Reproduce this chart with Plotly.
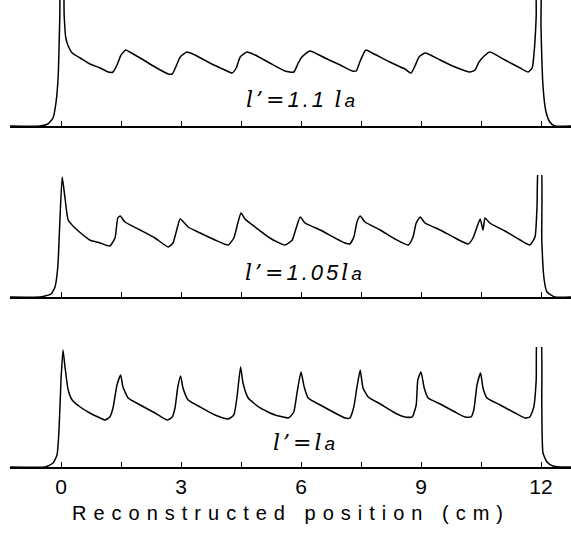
import plotly.graph_objects as go

# ---- data ----
x_top = [-1.28, -0.53, -0.33, -0.2, -0.12, -0.07, -0.03, 0.0, 0.04, 0.08, 0.12, 0.18, 0.28, 0.48, 0.72, 0.98,
         1.18, 1.3, 1.4, 1.5, 1.62, 1.72, 1.98, 2.35, 2.68, 2.78, 2.88, 2.98, 3.15, 3.35, 3.72, 4.1, 4.28,
         4.38, 4.48, 4.65, 4.85, 5.22, 5.6, 5.82, 5.92, 6.02, 6.22, 6.6, 6.98, 7.28, 7.38, 7.48, 7.62, 7.78,
         8.22, 8.6, 8.75, 8.85, 8.95, 9.1, 9.48, 9.85, 10.22, 10.35, 10.45, 10.58, 10.72, 11.1, 11.48, 11.68,
         11.78, 11.82, 11.88, 11.9, 11.98, 12.0, 12.05, 12.12, 12.22, 12.35, 12.75]
h_top = [0, 0, 2, 8, 25, 50, 110, 170, 170, 110, 88, 80, 73, 68, 62, 58,
         54, 54, 61, 71, 76, 74, 68, 59, 52, 52, 60, 69, 74, 71, 63, 56, 53,
         58, 69, 74, 71, 63, 55, 54, 62, 69, 75, 68, 61, 55, 55, 65, 76, 73,
         64, 57, 53, 60, 69, 73, 66, 59, 54, 56, 64, 70, 74, 66, 58, 54,
         58, 70, 110, 170, 170, 100, 40, 15, 4, 0, 0]

x_mid = [-1.28, -0.53, -0.4, -0.25, -0.15, -0.08, -0.03, 0.03, 0.1, 0.18, 0.35, 0.72, 0.98, 1.22, 1.35,
         1.42, 1.48, 1.6, 1.98, 2.35, 2.68, 2.8, 2.88, 2.98, 3.18, 3.48, 3.85, 4.18, 4.32, 4.42, 4.5, 4.6,
         4.85, 5.22, 5.6, 5.78, 5.88, 5.98, 6.1, 6.48, 6.85, 7.1, 7.22, 7.32, 7.4, 7.48, 7.6, 7.98, 8.35,
         8.68, 8.8, 8.88, 8.98, 9.1, 9.48, 9.85, 10.18, 10.3, 10.4, 10.48, 10.55, 10.6, 10.72, 11.1, 11.48,
         11.72, 11.85, 11.9, 11.94, 12.0, 12.02, 12.08, 12.15, 12.35, 12.75]
h_mid = [0, 0, 1, 3, 10, 30, 74, 120, 99, 77, 69, 57, 54, 51, 59,
         79, 81, 75, 67, 59, 50, 54, 65, 78, 70, 64, 57, 52, 59, 74, 84, 78,
         70, 59, 52, 57, 69, 80, 74, 67, 59, 54, 53, 60, 75, 81, 75, 67, 58,
         52, 60, 74, 80, 74, 67, 59, 53, 59, 70, 78, 67, 79, 74, 66, 57,
         52, 60, 90, 135, 135, 57, 17, 5, 0, 0]

x_bot = [-1.28, -0.4, -0.33, -0.2, -0.1, -0.05, 0.0, 0.05, 0.1, 0.18, 0.28, 0.48, 0.72, 0.98, 1.1, 1.22,
         1.3, 1.4, 1.49, 1.55, 1.68, 1.98, 2.35, 2.65, 2.78, 2.85, 2.92, 2.99, 3.05, 3.18, 3.48, 3.85, 4.18,
         4.32, 4.4, 4.49, 4.55, 4.68, 4.98, 5.35, 5.68, 5.72, 5.82, 5.9, 6.0, 6.08, 6.18, 6.48, 6.85, 7.1,
         7.22, 7.32, 7.4, 7.48, 7.55, 7.68, 7.98, 8.35, 8.6, 8.78, 8.88, 8.92, 9.0, 9.08, 9.18, 9.48, 9.85,
         10.1, 10.25, 10.32, 10.4, 10.49, 10.55, 10.65, 10.98, 11.35, 11.6, 11.72, 11.82, 11.88, 11.91,
         11.99, 12.02, 12.05, 12.15, 12.3, 12.48, 12.75]
h_bot = [0, 0, 1, 4, 12, 37, 87, 117, 100, 77, 67, 60, 54, 49, 47, 50,
         59, 82, 92, 80, 69, 62, 54, 47, 50, 59, 80, 91, 79, 67, 60, 52, 48,
         52, 70, 100, 84, 69, 59, 52, 49, 50, 55, 74, 95, 80, 69, 62, 54, 49,
         49, 60, 80, 97, 79, 70, 63, 54, 50, 50, 62, 87, 95, 79, 69, 63, 55,
         50, 50, 57, 82, 94, 79, 69, 62, 54, 49, 50, 60, 87, 135,
         135, 60, 14, 5, 1, 0, 0]

tick_vals = [0, 1.5, 3, 4.5, 6, 7.5, 9, 10.5, 12]
tick_text = ["0", "", "3", "", "6", "", "9", "", "12"]
labels = ["1.1", "1.05", ""]
x_title = "Reconstructed position (cm)"

SERIF = "DejaVu Serif"
SANS = "Liberation Sans"


def eq_text(val):
    l = f"<i><span style=\"font-family:'{SERIF}'\">l\u2019</span></i><span style=\"font-family:'{SERIF}'\">=</span>"
    la = (f"<i><span style=\"font-family:'{SERIF}'\">l</span></i>"
          f"<i><span style=\"font-size:19px\">a</span></i>")
    if val:
        gap = "\u2009" if val == "1.1" else ""
        return l + f"<i>{val}</i>" + gap + la
    return l + la


fig = go.Figure()
panels = [(x_top, h_top, "x", "y", [0, 126], [0.7302, 1.0]),
          (x_mid, h_mid, "x2", "y2", [0, 122], [0.3640, 0.6253]),
          (x_bot, h_bot, "x3", "y3", [0, 120], [0.0, 0.2570])]

layout = dict(width=571, height=557, margin=dict(l=10, r=0, t=0, b=90),
              plot_bgcolor="white", paper_bgcolor="white", showlegend=False)

for i, (xs, hs, xa, ya, yr, dom) in enumerate(panels):
    fig.add_trace(go.Scatter(x=xs, y=hs, mode="lines", xaxis=xa, yaxis=ya,
                             line=dict(color="black", width=1.5, shape="spline", smoothing=0.5),
                             hoverinfo="skip"))
    sfx = "" if i == 0 else str(i + 1)
    layout["xaxis" + sfx] = dict(range=[-1.275, 12.75], anchor="y" + sfx, showgrid=False, zeroline=False,
                                 showline=True, linecolor="black", linewidth=2,
                                 ticks="inside", ticklen=5, tickwidth=1.2, tickcolor="black",
                                 tickvals=tick_vals, ticktext=tick_text,
                                 showticklabels=(i == 2),
                                 tickfont=dict(family=SANS, size=21, color="black"))
    layout["yaxis" + sfx] = dict(range=yr, domain=dom, anchor="x" + sfx, visible=False, fixedrange=True)

fig.update_layout(**layout)

ann_pos = [("x", "y", 6.03, 27), ("x2", "y2", 6.1, 25), ("x3", "y3", 6.1, 25)]
for (xr, yr_, ax, ay), val in zip(ann_pos, labels):
    fig.add_annotation(x=ax, y=ay, xref=xr, yref=yr_,
                       text=f'<span style="letter-spacing:3px">{eq_text(val)}</span>', showarrow=False,
                       font=dict(family=SANS, size=22, color="black"), xanchor="center", yanchor="middle")

fig.add_annotation(x=0.5, y=-0.098, xref="paper", yref="paper", showarrow=False,
                   text=f'<span style="letter-spacing:7px">{x_title}</span>',
                   font=dict(family=SANS, size=20, color="black"), xanchor="center", yanchor="middle")

fig.write_html("out.html")
